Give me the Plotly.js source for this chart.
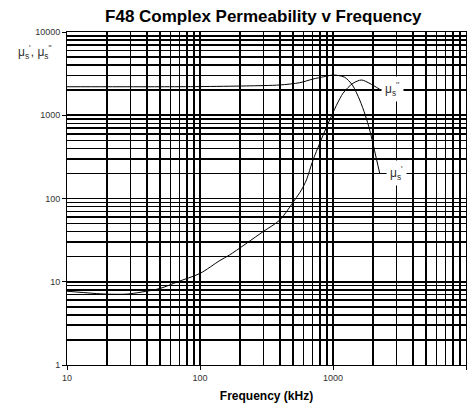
<!DOCTYPE html>
<html>
<head>
<meta charset="utf-8">
<script src="https://cdn.plot.ly/plotly-3.0.1.min.js"></script>
<style>html,body{margin:0;padding:0;background:#fff;}#chart{width:474px;height:408px;}</style>
</head>
<body>
<div id="chart"></div>
<script>
// μs' (real part)
const freqReal = [10, 20, 50, 100, 223, 397, 562, 708, 850, 1000, 1100, 1225, 1400, 1588, 1750, 1888, 2050, 2244];
const muReal   = [2200, 2200, 2200, 2210, 2250, 2310, 2460, 2725, 2900, 3040, 3000, 2860, 2300, 1525, 1000, 665, 380, 201];
// μs'' (imaginary part)
const freqImag = [10, 15.7, 20, 28, 36, 50, 68, 100, 141, 167, 298, 397, 515, 578, 631, 708, 944, 1189, 1413, 1637, 1900, 2244];
const muImag   = [7.7, 7.26, 7.1, 7.1, 7.5, 8.3, 10, 12.6, 18, 21, 40, 55, 96, 126, 167, 290, 877, 1835, 2420, 2650, 2400, 2050];

const xMajor = [10, 100, 1000, 10000];
const yMajor = [1, 10, 100, 1000, 10000];
const xLabels = ['10', '100', '1000', '10000'];
const yLabels = ['1', '10', '100', '1000', '10000'];

function minorVals(lo, hi) {
  const out = [];
  for (let d = lo; d < hi; d *= 10) {
    for (let m = 2; m <= 9; m++) out.push(d * m);
  }
  return out;
}

const FONT = 'Arial, Liberation Sans, sans-serif';
const lineStyle = {color: '#000', width: 1, shape: 'spline', smoothing: 0.8};
const traces = [
  {x: freqReal, y: muReal, mode: 'lines', line: lineStyle, name: "μs'", hoverinfo: 'x+y'},
  {x: freqImag, y: muImag, mode: 'lines', line: lineStyle, name: "μs''", hoverinfo: 'x+y'}
];

const tickFont = {family: FONT, size: 9, color: '#333333'};
const gridCol = '#000';
const labelFont = {family: FONT, size: 12, color: '#333333'};

const layout = {
  width: 474, height: 408,
  margin: {l: 67, r: 8, t: 32, b: 43},
  paper_bgcolor: '#fff', plot_bgcolor: '#fff',
  showlegend: false,
  title: {text: '<b>F48 Complex Permeability v Frequency</b>', x: 0.492, xref: 'paper', xanchor: 'center', y: 0.96, yref: 'container', yanchor: 'middle',
          font: {family: FONT, size: 17, color: '#000'}},
  xaxis: {
    type: 'log', range: [1, 4], tickvals: xMajor, ticktext: xLabels,
    ticks: 'outside', ticklen: 4, tickcolor: '#000', tickfont: tickFont,
    showgrid: true, gridcolor: gridCol, gridwidth: 1.6,
    showline: true, linecolor: '#000', linewidth: 1, mirror: true,
    minor: {tickvals: minorVals(10, 10000), showgrid: true, gridcolor: gridCol, gridwidth: 1.6, ticklen: 0},
    zeroline: false,
    title: {text: '<b>Frequency (kHz)</b>', standoff: 9, font: {family: FONT, size: 12, color: '#000'}}
  },
  yaxis: {
    type: 'log', range: [0, 4], tickvals: yMajor, ticktext: yLabels,
    ticks: 'outside', ticklen: 4, tickcolor: '#000', tickfont: tickFont,
    showgrid: true, gridcolor: gridCol, gridwidth: 1.6,
    showline: true, linecolor: '#000', linewidth: 1, mirror: true,
    minor: {tickvals: minorVals(1, 10000), showgrid: true, gridcolor: gridCol, gridwidth: 1.6, ticklen: 0},
    zeroline: false
  },
  annotations: [
    {xref: 'paper', yref: 'paper', x: -0.08, y: 0.94, xanchor: 'center', yanchor: 'middle', showarrow: false,
     text: "μ<sub>s</sub><sup>'</sup>, μ<sub>s</sub><sup>''</sup>", font: labelFont},
    {x: Math.log10(2300), y: Math.log10(2050), xref: 'x', yref: 'y', xanchor: 'left', yanchor: 'middle', showarrow: false,
     text: "μ<sub>s</sub><sup>''</sup>", bgcolor: '#fff', borderpad: 3, font: labelFont},
    {x: Math.log10(2500), y: Math.log10(201), xref: 'x', yref: 'y', xanchor: 'left', yanchor: 'middle', showarrow: false,
     text: "μ<sub>s</sub><sup>'</sup>", bgcolor: '#fff', borderpad: 3, font: labelFont}
  ],
  shapes: [
    {type: 'line', xref: 'x', yref: 'y', x0: Math.log10(2244), x1: Math.log10(2500), y0: Math.log10(201), y1: Math.log10(201), line: {color: '#000', width: 1}}
  ]
};

Plotly.newPlot('chart', traces, layout, {staticPlot: true, displayModeBar: false});
</script>
</body>
</html>
